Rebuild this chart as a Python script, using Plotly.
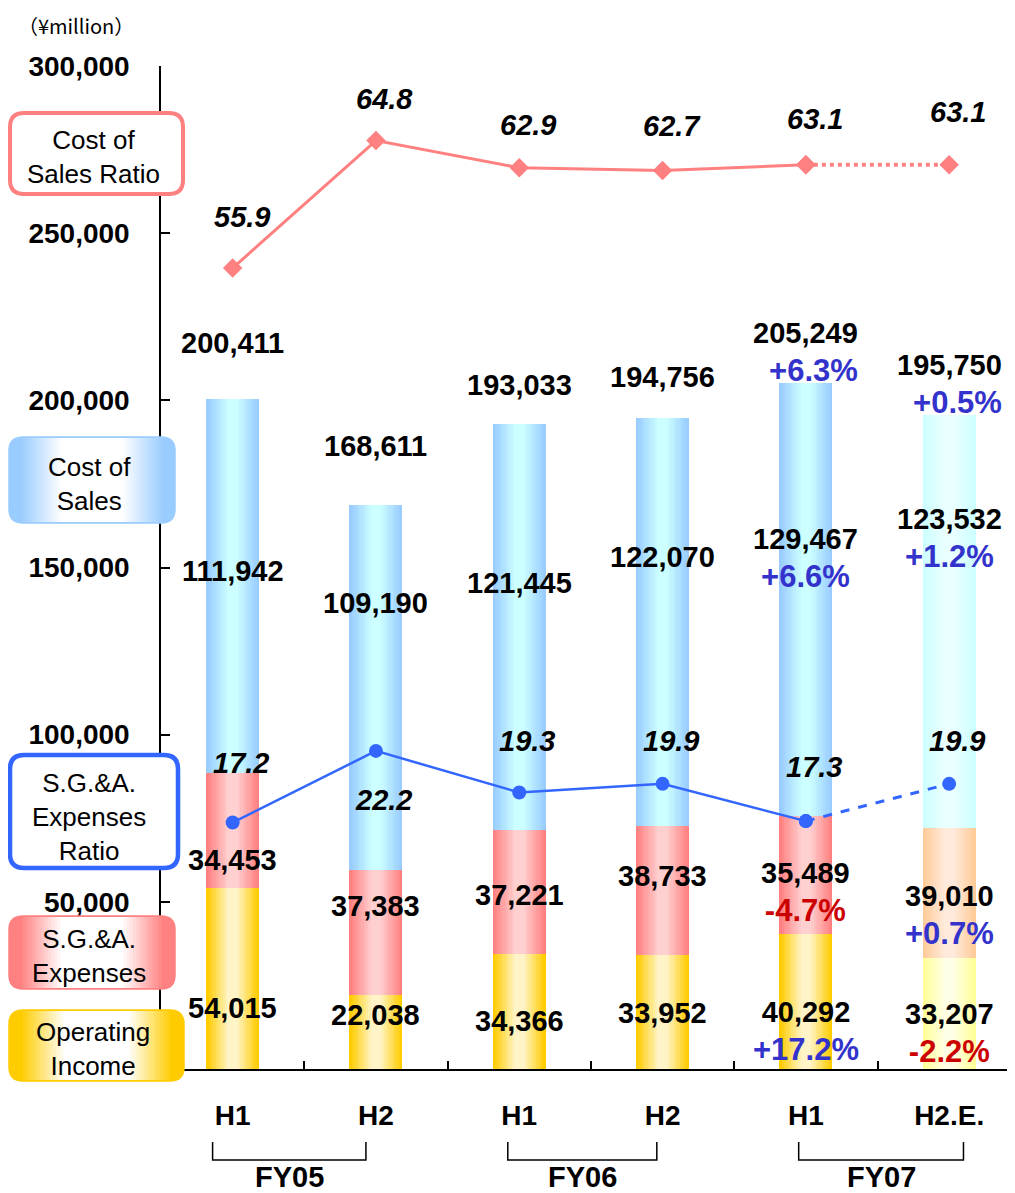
import plotly.graph_objects as go

# half-year periods and fiscal years
halves = ["H1", "H2", "H1", "H2", "H1", "H2.E."]
fiscal_years = ["FY05", "FY06", "FY07"]

# ¥million
operating_income = [54015, 22038, 34366, 33952, 40292, 33207]
sga_expenses = [34453, 37383, 37221, 38733, 35489, 39010]
cost_of_sales = [111942, 109190, 121445, 122070, 129467, 123532]
net_sales = [200411, 168611, 193033, 194756, 205249, 195750]
y_ticks = [50000, 100000, 150000, 200000, 250000, 300000]

# ratios, %
cost_ratio = [55.9, 64.8, 62.9, 62.7, 63.1, 63.1]
sga_ratio = [17.2, 22.2, 19.3, 19.9, 17.3, 19.9]

# year-on-year changes (FY07 only)
sales_chg = ["", "", "", "", "+6.3%", "+0.5%"]
cos_chg = ["", "", "", "", "+6.6%", "+1.2%"]
sga_chg = ["", "", "", "", "-4.7%", "+0.7%"]
oi_chg = ["", "", "", "", "+17.2%", "-2.2%"]

x = list(range(len(halves)))
BAR_W = 0.37
FONT = "Liberation Sans, Arial, sans-serif"

# gradient colours (edge -> centre); the estimate bar is lighter
oi_edge = ["#FFCC00"] * 5 + ["#FFFF99"]
oi_mid = ["#FFF4C8"] * 5 + ["#FFFFE6"]
sga_edge = ["#FF8080"] * 5 + ["#FFCC99"]
sga_mid = ["#FFD0D0"] * 5 + ["#FFEADC"]
cos_edge = ["#99CCFF"] * 5 + ["#CCFFFF"]
cos_mid = ["#CCFFFF"] * 5 + ["#EAFFFF"]


def mix(c1, c2, t):
    a = [int(c1[i:i + 2], 16) for i in (1, 3, 5)]
    b = [int(c2[i:i + 2], 16) for i in (1, 3, 5)]
    return "rgb(%d,%d,%d)" % tuple(round(a[j] + (b[j] - a[j]) * t) for j in range(3))


def gradient_bar(fig, base, vals, edges, mids, steps=10):
    for k in range(steps):
        t = k / (steps - 1)
        fig.add_trace(go.Bar(
            x=x, y=vals, base=base, width=BAR_W * (1 - 0.8 * t),
            marker=dict(color=[mix(e, m, t) for e, m in zip(edges, mids)], line_width=0),
            showlegend=False, hoverinfo="skip"))


fig = go.Figure()
sga_base = operating_income
cos_base = [a + b for a, b in zip(operating_income, sga_expenses)]
gradient_bar(fig, [0] * len(x), operating_income, oi_edge, oi_mid)
gradient_bar(fig, sga_base, sga_expenses, sga_edge, sga_mid)
gradient_bar(fig, cos_base, cost_of_sales, cos_edge, cos_mid)

# ratio lines, last (estimate) segment dotted
PINK = "#FF8080"
BLUE = "#3366FF"
fig.add_trace(go.Scatter(x=x[:5], y=cost_ratio[:5], yaxis="y2", mode="lines+markers",
                         line=dict(color=PINK, width=3), marker=dict(symbol="diamond", size=15),
                         showlegend=False))
fig.add_trace(go.Scatter(x=x[4:], y=cost_ratio[4:], yaxis="y2", mode="lines+markers",
                         line=dict(color=PINK, width=4, dash="dot"), marker=dict(symbol="diamond", size=15),
                         showlegend=False))
fig.add_trace(go.Scatter(x=x[:5], y=sga_ratio[:5], yaxis="y2", mode="lines+markers",
                         line=dict(color=BLUE, width=2.5), marker=dict(symbol="circle", size=14),
                         showlegend=False))
fig.add_trace(go.Scatter(x=x[4:], y=sga_ratio[4:], yaxis="y2", mode="lines+markers",
                         line=dict(color=BLUE, width=3, dash="dash"), marker=dict(symbol="circle", size=14),
                         showlegend=False))

# label offsets in pixels
total_shift = [56, 59, 39, 41, 30, 30]
cos_shift = [15, 85, 44, 65, 41, 83]
sga_shift = [-29, 27, -3, 15, -18, -23]
oi_shift = [-29, 17, -9, -1, -30, -20]
cost_ratio_shift = [51, 42, 43, 45, 46, 53]
sga_ratio_shift = [60, -49, 51, 43, 54, 43]


def label(value, chg):
    txt = f"{value:,}"
    if chg:
        col = "#CC0000" if chg.startswith("-") else "#3333CC"
        txt += f"<br><span style='color:{col};font-size:31px'>{chg}</span>"
    return txt


ann = []
lab_font = dict(family=FONT, size=29, color="black", weight="bold")
for i in x:
    ann.append(dict(x=i, y=net_sales[i], text=label(net_sales[i], sales_chg[i]),
                    yshift=total_shift[i], align="right"))
    ann.append(dict(x=i, y=cos_base[i] + cost_of_sales[i] / 2, text=label(cost_of_sales[i], cos_chg[i]),
                    yshift=cos_shift[i]))
    ann.append(dict(x=i, y=sga_base[i] + sga_expenses[i] / 2, text=label(sga_expenses[i], sga_chg[i]),
                    yshift=sga_shift[i]))
    ann.append(dict(x=i, y=operating_income[i] / 2, text=label(operating_income[i], oi_chg[i]),
                    yshift=oi_shift[i]))
for a in ann:
    a.update(xref="x", yref="y", showarrow=False, font=lab_font, yanchor="middle")

ratio_font = dict(family=FONT, size=29, color="black", weight="bold", style="italic")
for i in x:
    ann.append(dict(x=i, y=cost_ratio[i], xref="x", yref="y2", text=f"{cost_ratio[i]:.1f}",
                    showarrow=False, font=ratio_font, xshift=9, yshift=cost_ratio_shift[i]))
    ann.append(dict(x=i, y=sga_ratio[i], xref="x", yref="y2", text=f"{sga_ratio[i]:.1f}",
                    showarrow=False, font=ratio_font, xshift=8, yshift=sga_ratio_shift[i]))

# plot area in screen pixels (page body adds an 8px offset)
OFF = 8
W, H = 1015 - OFF, 1193 - OFF
L, R, T, B = 161, 1015, 66, 1069


def PX(v):
    return (v - L) / (R - L)


def PY(v):
    return (B - v) / (B - T)


def rounded(x0, y0, x1, y1, r):
    r = max(r, 0)
    return (f"M {PX(x0 + r)},{PY(y0)} L {PX(x1 - r)},{PY(y0)} Q {PX(x1)},{PY(y0)} {PX(x1)},{PY(y0 + r)} "
            f"L {PX(x1)},{PY(y1 - r)} Q {PX(x1)},{PY(y1)} {PX(x1 - r)},{PY(y1)} "
            f"L {PX(x0 + r)},{PY(y1)} Q {PX(x0)},{PY(y1)} {PX(x0)},{PY(y1 - r)} "
            f"L {PX(x0)},{PY(y0 + r)} Q {PX(x0)},{PY(y0)} {PX(x0 + r)},{PY(y0)} Z")


shapes = []


def box(x0, y0, x1, y1, edge=None, border=None, bw=4, r=14, steps=14):
    if edge is None:
        shapes.append(dict(type="path", xref="paper", yref="paper", path=rounded(x0, y0, x1, y1, r),
                           fillcolor="white", line=dict(color=border, width=bw)))
        return
    hw = (x1 - x0) / 2
    shapes.append(dict(type="path", xref="paper", yref="paper", path=rounded(x0, y0, x1, y1, r),
                       fillcolor=edge, line=dict(color=edge, width=1.5)))
    for k in range(1, steps):
        t = k / (steps - 1)
        d = hw * (0.12 + 0.5 * t)
        shapes.append(dict(type="path", xref="paper", yref="paper",
                           path=rounded(x0 + d, y0 + 1, x1 - d, y1 - 1, 0),
                           fillcolor=mix(edge, "#FFFFFF", t), line_width=0))


box(10, 113, 183, 194, border=PINK, bw=4)
box(9, 437, 175, 523, edge="#99CCFF")
box(10, 755, 178, 868, border=BLUE, bw=4.5)
box(9, 916, 175, 989, edge="#FF8080")
box(9, 1010, 184, 1081, edge="#FFCC00")

box_font = dict(family=FONT, size=26, color="black")
for txt, cx, cy in [("Cost of<br>Sales Ratio", 93, 157), ("Cost of<br>Sales", 89, 484),
                    ("S.G.&A.<br>Expenses<br>Ratio", 89, 817), ("S.G.&A.<br>Expenses", 89, 956),
                    ("Operating<br>Income", 93, 1049)]:
    ann.append(dict(x=PX(cx), y=PY(cy), xref="paper", yref="paper", text=txt, showarrow=False,
                    xanchor="center", yanchor="middle", font=box_font, align="center"))

ann.append(dict(x=PX(16), y=PY(9), xref="paper", yref="paper", text="（¥million）", showarrow=False,
                xanchor="left", yanchor="top",
                font=dict(family="Noto Sans CJK JP", size=20, color="black")))

# fiscal year brackets
bracket_spans = [(-0.14, 0.93), (1.92, 2.96), (3.95, 5.10)]
for (a, b), fy in zip(bracket_spans, fiscal_years):
    shapes.append(dict(type="path", xref="x", yref="paper",
                       path=f"M {a},{PY(1142)} L {a},{PY(1160)} L {b},{PY(1160)} L {b},{PY(1142)}",
                       line=dict(color="black", width=1.5)))
    ann.append(dict(x=(a + b) / 2, y=PY(1177), xref="x", yref="paper", text=fy, showarrow=False,
                    yanchor="middle", font=dict(family=FONT, size=29, color="black", weight="bold")))

fig.update_layout(
    width=W, height=H,
    margin=dict(l=L - OFF, r=W - (R - OFF), t=T - OFF, b=H - (B - OFF), autoexpand=False),
    barmode="overlay", bargap=0,
    plot_bgcolor="white", paper_bgcolor="white",
    showlegend=False,
    annotations=ann, shapes=shapes,
    xaxis=dict(range=[-0.5, -0.5 + (R - L) / 143.3], tickvals=x, ticktext=halves, ticks="",
               showgrid=False, zeroline=False, showline=True, linecolor="black", linewidth=1.5,
               tickfont=dict(family=FONT, size=28, color="black", weight="bold"),
               ticklabelstandoff=21,
               minor=dict(tickvals=[i + 0.5 for i in x[:-1]], ticks="inside", ticklen=8,
                          tickcolor="black", tickwidth=1.5, showgrid=False)),
    yaxis=dict(range=[0, 300000], tickvals=y_ticks, tickformat=",d", showgrid=False, zeroline=False,
               showline=True, linecolor="black", linewidth=1.5, ticks="inside", ticklen=9,
               tickcolor="black", tickwidth=1.5, ticklabelstandoff=24,
               tickfont=dict(family=FONT, size=28, color="black", weight="bold")),
    yaxis2=dict(range=[0, 70], dtick=10, overlaying="y", side="right", showgrid=False,
                zeroline=False, showline=False, ticks="inside", ticklen=8, tickcolor="#808080",
                tickwidth=1.5, showticklabels=False),
)

fig.write_html("out.html")
